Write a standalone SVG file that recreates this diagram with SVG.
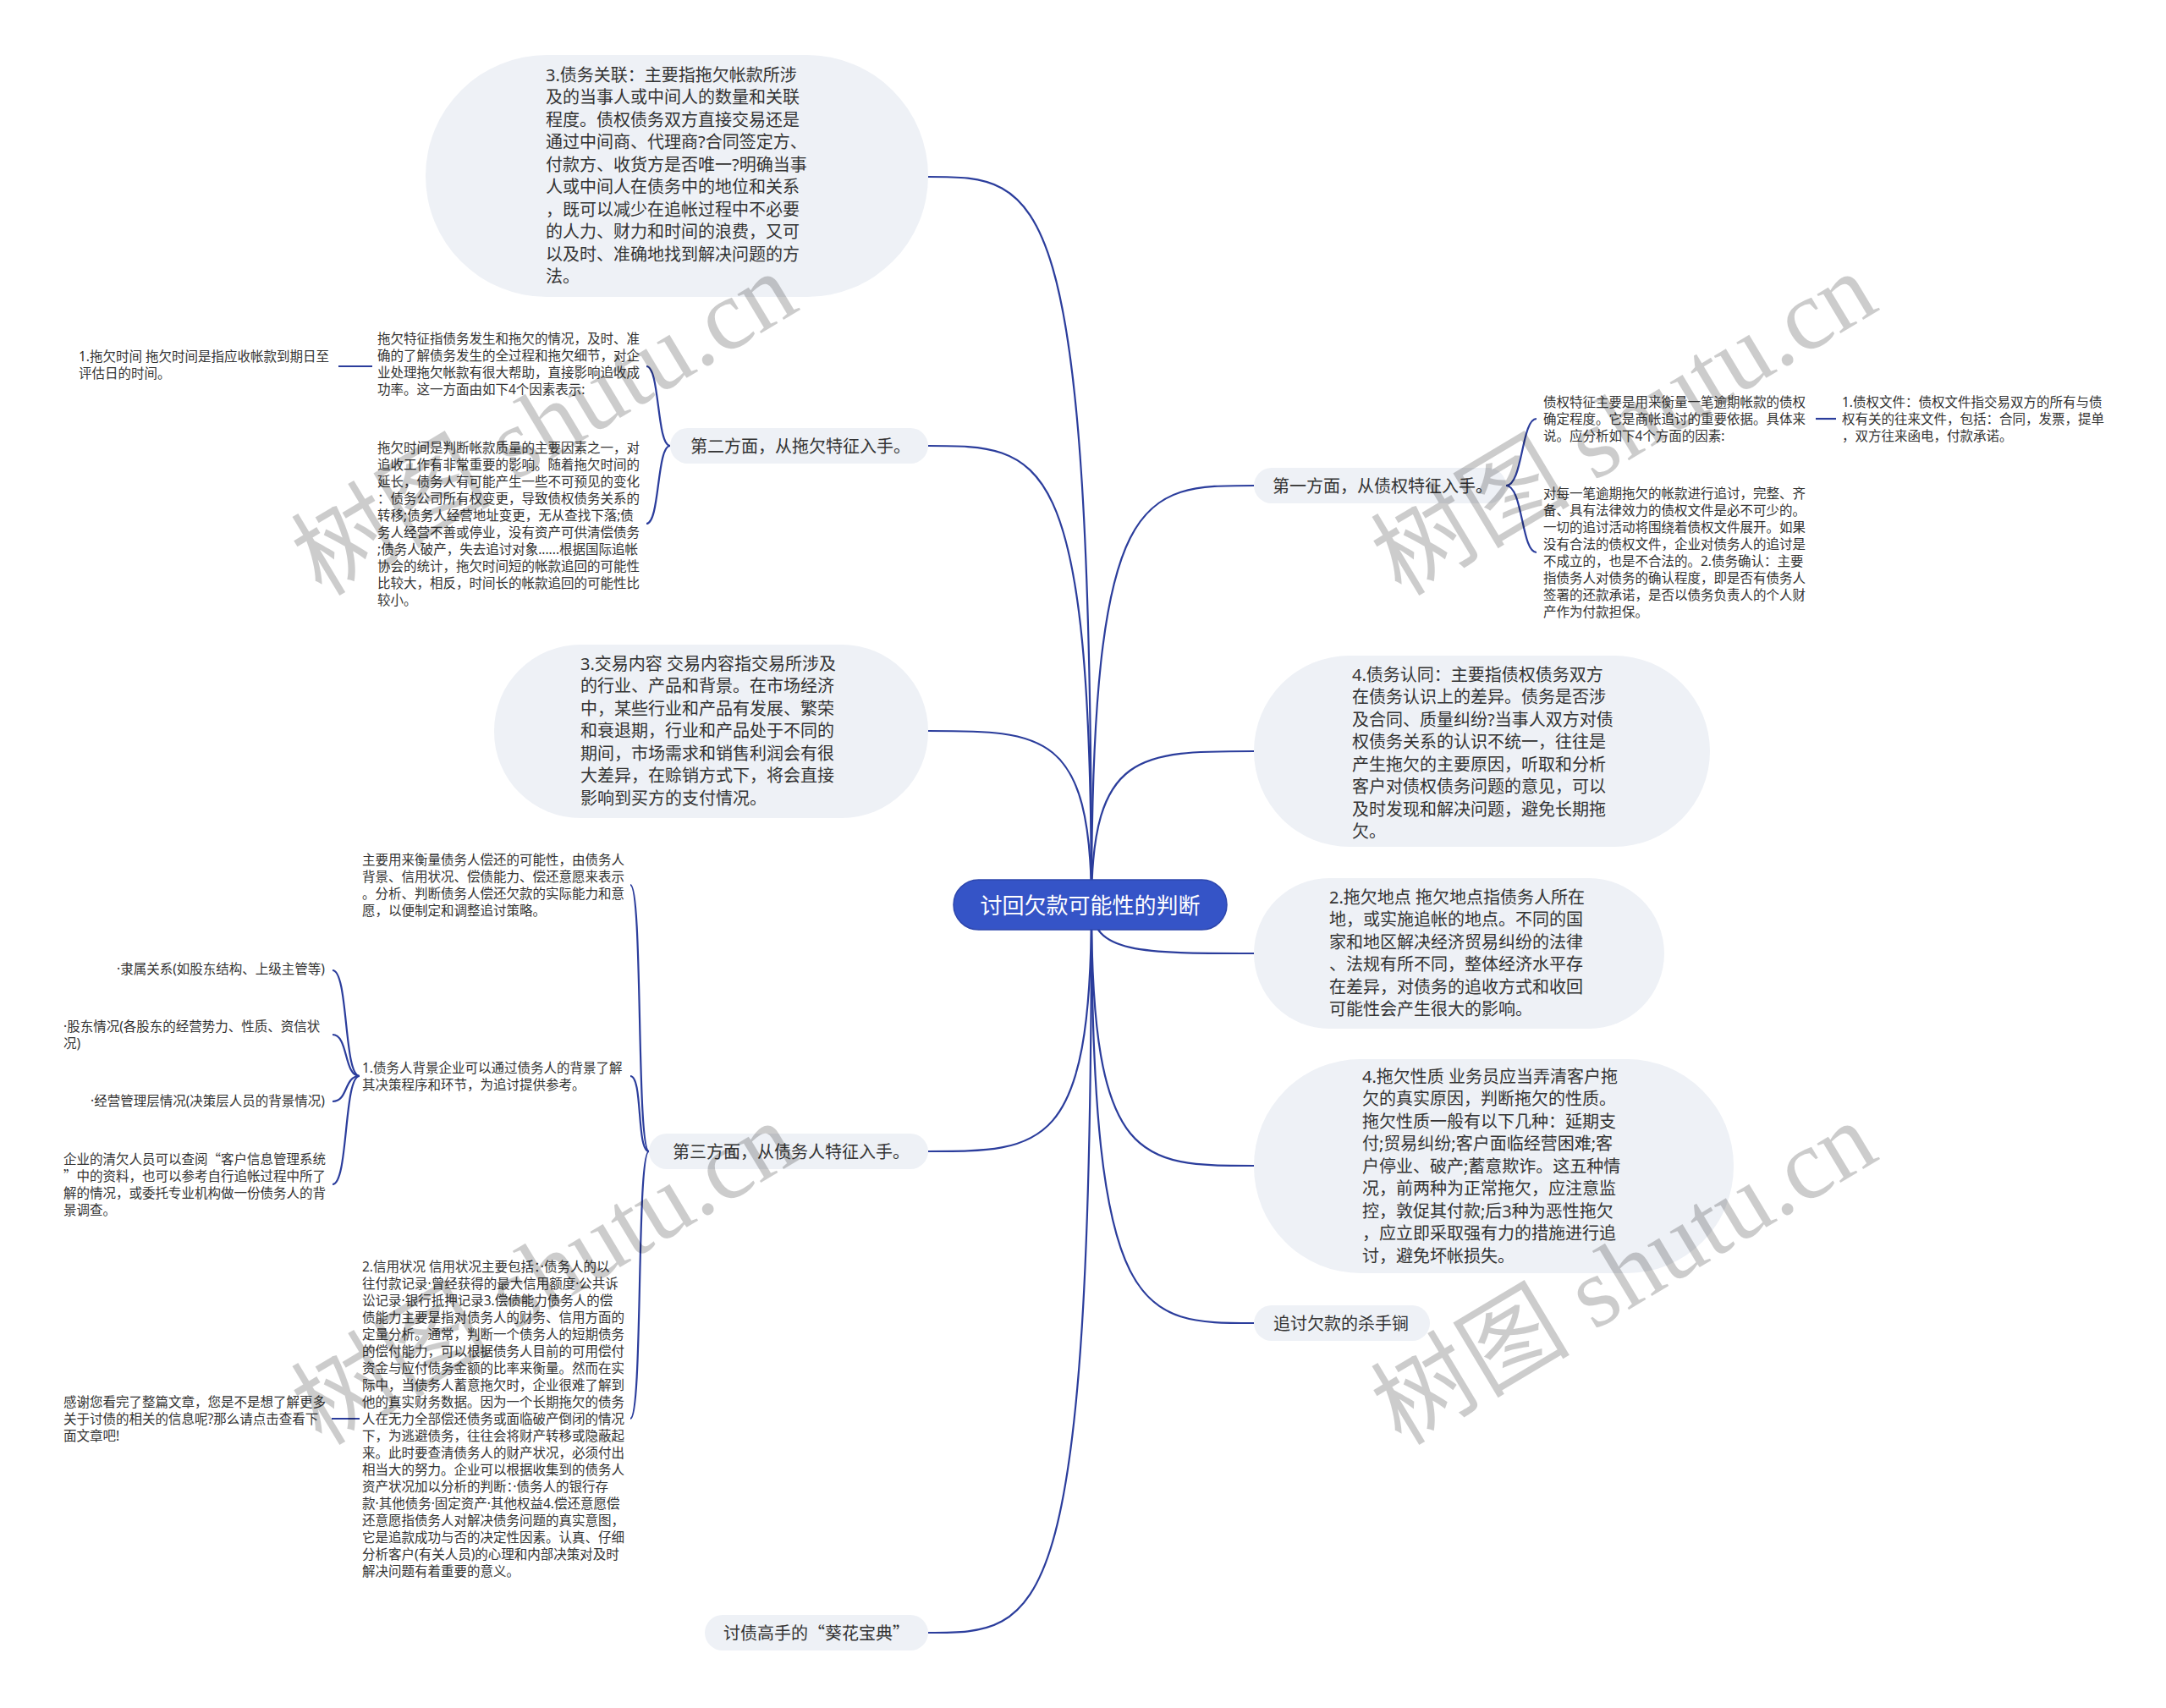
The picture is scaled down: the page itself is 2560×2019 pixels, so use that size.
<svg xmlns="http://www.w3.org/2000/svg" width="2560" height="2019" viewBox="0 0 2560 2019">
<style>
text{font-family:"Noto Sans","Noto Sans CJK SC",sans-serif;fill:#333}
.q{font-family:"Noto Sans CJK SC",sans-serif}
.f20{font-size:20px}
.f15{font-size:15.5px}
.c{fill:none;stroke:#2b3d9c;stroke-width:2.2}
.b{fill:#eef1f6}
.wm{font-family:"Liberation Serif","Noto Sans CJK SC",serif;font-size:118px;fill:#000;fill-opacity:0.2}
</style>
<rect width="2560" height="2019" fill="#ffffff"/>
<g id="connectors">
<path class="c" d="M1290,1070 C1290,209 1232,209 1097,209"/>
<path class="c" d="M1290,1070 C1290,527 1232,527 1097,527"/>
<path class="c" d="M1290,1070 C1290,864 1232,864 1097,864"/>
<path class="c" d="M1290,1070 C1290,1361 1232,1361 1097,1361"/>
<path class="c" d="M1290,1070 C1290,1930 1232,1930 1097,1930"/>
<path class="c" d="M1290,1070 C1290,574 1348,574 1482,574"/>
<path class="c" d="M1290,1070 C1290,888 1348,888 1482,888"/>
<path class="c" d="M1290,1070 C1290,1127 1348,1127 1482,1127"/>
<path class="c" d="M1290,1070 C1290,1378 1348,1378 1482,1378"/>
<path class="c" d="M1290,1070 C1290,1564 1348,1564 1482,1564"/>
<path class="c" d="M792,527 C776,527 780,433 764,433"/>
<path class="c" d="M792,527 C776,527 780,619 764,619"/>
<path class="c" d="M440,433 L400,433"/>
<path class="c" d="M767,1361 C752,1361 760,1046 745,1046"/>
<path class="c" d="M767,1361 C752,1361 760,1272 745,1272"/>
<path class="c" d="M767,1361 C752,1361 760,1677 745,1677"/>
<path class="c" d="M425,1272 C406,1272 412,1147 393,1147"/>
<path class="c" d="M425,1272 C406,1272 412,1223 393,1223"/>
<path class="c" d="M425,1272 C406,1272 412,1302 393,1302"/>
<path class="c" d="M425,1272 C406,1272 412,1400 393,1400"/>
<path class="c" d="M425,1677 L392,1677"/>
<path class="c" d="M1780,574 C1800,574 1798,495 1816,495"/>
<path class="c" d="M1780,574 C1800,574 1798,653 1816,653"/>
<path class="c" d="M2146,495 L2170,495"/>
</g>
<g id="root">
<rect x="1127" y="1040" width="323" height="59" rx="29.5" fill="#3554c7" stroke="#2d46ad" stroke-width="1.5"/>
<text x="1288.5" y="1079.5" text-anchor="middle" style="font-size:26px;fill:#ffffff">讨回欠款可能性的判断</text>
</g>
<g id="n-debt-relation">
<rect class="b" x="503" y="65" width="594" height="286" rx="143"/>
<text class="f20" x="645" y="95.6"><tspan x="645">3.债务关联：主要指拖欠帐款所涉</tspan><tspan x="645" dy="26.5">及的当事人或中间人的数量和关联</tspan><tspan x="645" dy="26.5">程度。债权债务双方直接交易还是</tspan><tspan x="645" dy="26.5">通过中间商、代理商?合同签定方、</tspan><tspan x="645" dy="26.5">付款方、收货方是否唯一?明确当事</tspan><tspan x="645" dy="26.5">人或中间人在债务中的地位和关系</tspan><tspan x="645" dy="26.5">，既可以减少在追帐过程中不必要</tspan><tspan x="645" dy="26.5">的人力、财力和时间的浪费，又可</tspan><tspan x="645" dy="26.5">以及时、准确地找到解决问题的方</tspan><tspan x="645" dy="26.5">法。</tspan></text>
</g>
<g id="n-second">
<rect class="b" x="792" y="506" width="305" height="42" rx="21"/>
<text class="f20" x="816" y="534.6">第二方面，从拖欠特征入手。</text>
</g>
<g id="n-second-a">
<text class="f15" x="446" y="406"><tspan x="446">拖欠特征指债务发生和拖欠的情况，及时、准</tspan><tspan x="446" dy="20">确的了解债务发生的全过程和拖欠细节，对企</tspan><tspan x="446" dy="20">业处理拖欠帐款有很大帮助，直接影响追收成</tspan><tspan x="446" dy="20">功率。这一方面由如下4个因素表示:</tspan></text>
</g>
<g id="n-second-a1">
<text class="f15" x="93" y="427"><tspan x="93">1.拖欠时间 拖欠时间是指应收帐款到期日至</tspan><tspan x="93" dy="20">评估日的时间。</tspan></text>
</g>
<g id="n-second-b">
<text class="f15" x="446" y="535"><tspan x="446">拖欠时间是判断帐款质量的主要因素之一，对</tspan><tspan x="446" dy="20">追收工作有非常重要的影响。随着拖欠时间的</tspan><tspan x="446" dy="20">延长，债务人有可能产生一些不可预见的变化</tspan><tspan x="446" dy="20">：债务公司所有权变更，导致债权债务关系的</tspan><tspan x="446" dy="20">转移;债务人经营地址变更，无从查找下落;债</tspan><tspan x="446" dy="20">务人经营不善或停业，没有资产可供清偿债务</tspan><tspan x="446" dy="20">;债务人破产，失去追讨对象......根据国际追帐</tspan><tspan x="446" dy="20">协会的统计，拖欠时间短的帐款追回的可能性</tspan><tspan x="446" dy="20">比较大，相反，时间长的帐款追回的可能性比</tspan><tspan x="446" dy="20">较小。</tspan></text>
</g>
<g id="n-trade">
<rect class="b" x="584" y="762" width="513" height="205" rx="102"/>
<text class="f20" x="686" y="791.6"><tspan x="686">3.交易内容 交易内容指交易所涉及</tspan><tspan x="686" dy="26.5">的行业、产品和背景。在市场经济</tspan><tspan x="686" dy="26.5">中，某些行业和产品有发展、繁荣</tspan><tspan x="686" dy="26.5">和衰退期，行业和产品处于不同的</tspan><tspan x="686" dy="26.5">期间，市场需求和销售利润会有很</tspan><tspan x="686" dy="26.5">大差异，在赊销方式下，将会直接</tspan><tspan x="686" dy="26.5">影响到买方的支付情况。</tspan></text>
</g>
<g id="n-third">
<rect class="b" x="767" y="1340" width="330" height="42" rx="21"/>
<text class="f20" x="795" y="1368.6">第三方面，从债务人特征入手。</text>
</g>
<g id="n-third-a">
<text class="f15" x="428" y="1022"><tspan x="428">主要用来衡量债务人偿还的可能性，由债务人</tspan><tspan x="428" dy="20">背景、信用状况、偿债能力、偿还意愿来表示</tspan><tspan x="428" dy="20">。分析、判断债务人偿还欠款的实际能力和意</tspan><tspan x="428" dy="20">愿，以便制定和调整追讨策略。</tspan></text>
</g>
<g id="n-third-b">
<text class="f15" x="428" y="1268"><tspan x="428">1.债务人背景企业可以通过债务人的背景了解</tspan><tspan x="428" dy="20">其决策程序和环节，为追讨提供参考。</tspan></text>
</g>
<g id="n-third-b1">
<text class="f15" x="384" y="1151" text-anchor="end">·隶属关系(如股东结构、上级主管等)</text>
</g>
<g id="n-third-b2">
<text class="f15" x="75" y="1219"><tspan x="75">·股东情况(各股东的经营势力、性质、资信状</tspan><tspan x="75" dy="20">况)</tspan></text>
</g>
<g id="n-third-b3">
<text class="f15" x="384" y="1307" text-anchor="end">·经营管理层情况(决策层人员的背景情况)</text>
</g>
<g id="n-third-b4">
<text class="f15" x="75" y="1376"><tspan x="75">企业的清欠人员可以查阅<tspan class="q">“</tspan>客户信息管理系统</tspan><tspan x="75" dy="20"><tspan class="q">”</tspan>中的资料，也可以参考自行追帐过程中所了</tspan><tspan x="75" dy="20">解的情况，或委托专业机构做一份债务人的背</tspan><tspan x="75" dy="20">景调查。</tspan></text>
</g>
<g id="n-third-c">
<text class="f15" x="428" y="1503"><tspan x="428">2.信用状况 信用状况主要包括：·债务人的以</tspan><tspan x="428" dy="20">往付款记录·曾经获得的最大信用额度·公共诉</tspan><tspan x="428" dy="20">讼记录·银行抵押记录3.偿债能力债务人的偿</tspan><tspan x="428" dy="20">债能力主要是指对债务人的财务、信用方面的</tspan><tspan x="428" dy="20">定量分析。通常，判断一个债务人的短期债务</tspan><tspan x="428" dy="20">的偿付能力，可以根据债务人目前的可用偿付</tspan><tspan x="428" dy="20">资金与应付债务金额的比率来衡量。然而在实</tspan><tspan x="428" dy="20">际中，当债务人蓄意拖欠时，企业很难了解到</tspan><tspan x="428" dy="20">他的真实财务数据。因为一个长期拖欠的债务</tspan><tspan x="428" dy="20">人在无力全部偿还债务或面临破产倒闭的情况</tspan><tspan x="428" dy="20">下，为逃避债务，往往会将财产转移或隐蔽起</tspan><tspan x="428" dy="20">来。此时要查清债务人的财产状况，必须付出</tspan><tspan x="428" dy="20">相当大的努力。企业可以根据收集到的债务人</tspan><tspan x="428" dy="20">资产状况加以分析的判断：·债务人的银行存</tspan><tspan x="428" dy="20">款·其他债务·固定资产·其他权益4.偿还意愿偿</tspan><tspan x="428" dy="20">还意愿指债务人对解决债务问题的真实意图，</tspan><tspan x="428" dy="20">它是追款成功与否的决定性因素。认真、仔细</tspan><tspan x="428" dy="20">分析客户(有关人员)的心理和内部决策对及时</tspan><tspan x="428" dy="20">解决问题有着重要的意义。</tspan></text>
</g>
<g id="n-third-c1">
<text class="f15" x="75" y="1663"><tspan x="75">感谢您看完了整篇文章，您是不是想了解更多</tspan><tspan x="75" dy="20">关于讨债的相关的信息呢?那么请点击查看下</tspan><tspan x="75" dy="20">面文章吧!</tspan></text>
</g>
<g id="n-master">
<rect class="b" x="833" y="1909" width="264" height="42" rx="21"/>
<text class="f20" x="855" y="1937.6">讨债高手的<tspan class="q">“</tspan>葵花宝典<tspan class="q">”</tspan></text>
</g>
<g id="n-first">
<rect class="b" x="1482" y="553" width="298" height="42" rx="21"/>
<text class="f20" x="1504" y="581.6">第一方面，从债权特征入手。</text>
</g>
<g id="n-first-a">
<text class="f15" x="1824" y="481"><tspan x="1824">债权特征主要是用来衡量一笔逾期帐款的债权</tspan><tspan x="1824" dy="20">确定程度。它是商帐追讨的重要依据。具体来</tspan><tspan x="1824" dy="20">说。应分析如下4个方面的因素:</tspan></text>
</g>
<g id="n-first-a1">
<text class="f15" x="2177" y="481"><tspan x="2177">1.债权文件：债权文件指交易双方的所有与债</tspan><tspan x="2177" dy="20">权有关的往来文件，包括：合同，发票，提单</tspan><tspan x="2177" dy="20">，双方往来函电，付款承诺。</tspan></text>
</g>
<g id="n-first-b">
<text class="f15" x="1824" y="589"><tspan x="1824">对每一笔逾期拖欠的帐款进行追讨，完整、齐</tspan><tspan x="1824" dy="20">备、具有法律效力的债权文件是必不可少的。</tspan><tspan x="1824" dy="20">一切的追讨活动将围绕着债权文件展开。如果</tspan><tspan x="1824" dy="20">没有合法的债权文件，企业对债务人的追讨是</tspan><tspan x="1824" dy="20">不成立的，也是不合法的。2.债务确认：主要</tspan><tspan x="1824" dy="20">指债务人对债务的确认程度，即是否有债务人</tspan><tspan x="1824" dy="20">签署的还款承诺，是否以债务负责人的个人财</tspan><tspan x="1824" dy="20">产作为付款担保。</tspan></text>
</g>
<g id="n-debt-agree">
<rect class="b" x="1482" y="775" width="539" height="226" rx="113"/>
<text class="f20" x="1598" y="804.6"><tspan x="1598">4.债务认同：主要指债权债务双方</tspan><tspan x="1598" dy="26.5">在债务认识上的差异。债务是否涉</tspan><tspan x="1598" dy="26.5">及合同、质量纠纷?当事人双方对债</tspan><tspan x="1598" dy="26.5">权债务关系的认识不统一，往往是</tspan><tspan x="1598" dy="26.5">产生拖欠的主要原因，听取和分析</tspan><tspan x="1598" dy="26.5">客户对债权债务问题的意见，可以</tspan><tspan x="1598" dy="26.5">及时发现和解决问题，避免长期拖</tspan><tspan x="1598" dy="26.5">欠。</tspan></text>
</g>
<g id="n-place">
<rect class="b" x="1482" y="1038" width="485" height="178" rx="89"/>
<text class="f20" x="1571" y="1067.6"><tspan x="1571">2.拖欠地点 拖欠地点指债务人所在</tspan><tspan x="1571" dy="26.5">地，或实施追帐的地点。不同的国</tspan><tspan x="1571" dy="26.5">家和地区解决经济贸易纠纷的法律</tspan><tspan x="1571" dy="26.5">、法规有所不同，整体经济水平存</tspan><tspan x="1571" dy="26.5">在差异，对债务的追收方式和收回</tspan><tspan x="1571" dy="26.5">可能性会产生很大的影响。</tspan></text>
</g>
<g id="n-nature">
<rect class="b" x="1482" y="1252" width="567" height="253" rx="126"/>
<text class="f20" x="1610" y="1279.6"><tspan x="1610">4.拖欠性质 业务员应当弄清客户拖</tspan><tspan x="1610" dy="26.5">欠的真实原因，判断拖欠的性质。</tspan><tspan x="1610" dy="26.5">拖欠性质一般有以下几种：延期支</tspan><tspan x="1610" dy="26.5">付;贸易纠纷;客户面临经营困难;客</tspan><tspan x="1610" dy="26.5">户停业、破产;蓄意欺诈。这五种情</tspan><tspan x="1610" dy="26.5">况，前两种为正常拖欠，应注意监</tspan><tspan x="1610" dy="26.5">控，敦促其付款;后3种为恶性拖欠</tspan><tspan x="1610" dy="26.5">，应立即采取强有力的措施进行追</tspan><tspan x="1610" dy="26.5">讨，避免坏帐损失。</tspan></text>
</g>
<g id="n-killer">
<rect class="b" x="1482" y="1543" width="208" height="42" rx="21"/>
<text class="f20" x="1505" y="1571.6">追讨欠款的杀手锏</text>
</g>
<g id="watermarks">
<text class="wm" transform="translate(380,706) rotate(-31)">树图 shutu.cn</text>
<text class="wm" transform="translate(1656,706) rotate(-31)">树图 shutu.cn</text>
<text class="wm" transform="translate(380,1710) rotate(-31)">树图 shutu.cn</text>
<text class="wm" transform="translate(1656,1710) rotate(-31)">树图 shutu.cn</text>
</g>
</svg>
